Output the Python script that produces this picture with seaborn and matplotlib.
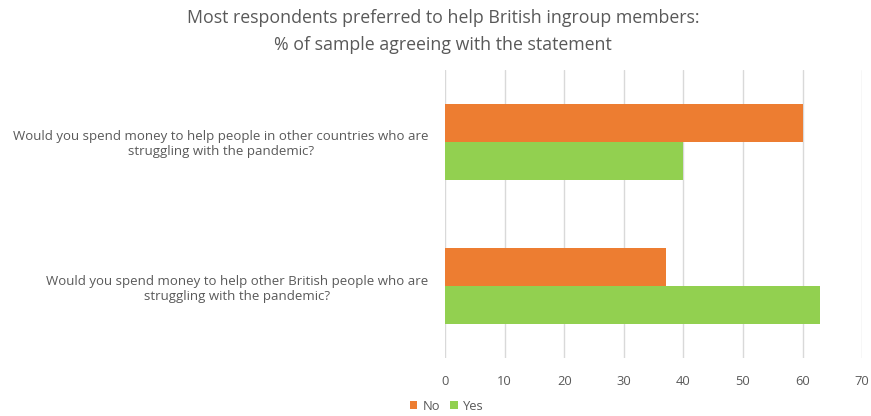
import matplotlib
matplotlib.use("Agg")
import matplotlib.pyplot as plt
import seaborn as sns
import pandas as pd

questions = [
    "Would you spend money to help people in other countries who are\nstruggling with the pandemic?",
    "Would you spend money to help other British people who are\nstruggling with the pandemic?",
]
no_values = [60, 37]
yes_values = [40, 63]
series = ["No", "Yes"]
colors = {"No": "#ED7D31", "Yes": "#92D050"}
ticks = [0, 10, 20, 30, 40, 50, 60, 70]

rows = []
for q, n, y in zip(questions, no_values, yes_values):
    rows.append({"question": q, "answer": "No", "pct": n})
    rows.append({"question": q, "answer": "Yes", "pct": y})
df = pd.DataFrame(rows)

sns.set_theme(style="white")
plt.rcParams["font.family"] = ["Open Sans", "DejaVu Sans"]
txt = "#595959"

fig = plt.figure(figsize=(8.71, 4.16), dpi=100)
ax = fig.add_axes([0.511, 0.139, 0.4788, 0.693])

sns.barplot(data=df, y="question", x="pct", hue="answer", order=questions,
            hue_order=series, palette=colors, orient="h", width=0.53,
            saturation=1, linewidth=0, ax=ax, legend=True)

ax.set_xlim(0, 70)
ax.set_ylim(1.5, -0.5)
ax.set_xticks(ticks)
ax.set_xticklabels([str(t) for t in ticks])
ax.xaxis.grid(True, color="#d9d9d9", linewidth=1)
ax.set_axisbelow(True)
for s in ax.spines.values():
    s.set_visible(False)
ax.set_xlabel("")
ax.set_ylabel("")
ax.tick_params(axis="x", colors=txt, labelsize=9.3, length=0, pad=12)
ax.tick_params(axis="y", colors=txt, labelsize=9.5, length=0, pad=12)
for lab in ax.get_yticklabels():
    lab.set_multialignment("center")

leg = ax.get_legend()
handles = leg.legend_handles
leg.remove()
fig.legend(handles, series, loc="lower center", bbox_to_anchor=(0.513, -0.02),
           ncol=2, frameon=False, fontsize=9.3, labelcolor=txt,
           handlelength=0.6, handleheight=0.6, handletextpad=0.4, columnspacing=0.8)

fig.text(0.509, 0.978, "Most respondents preferred to help British ingroup members:\n% of sample agreeing with the statement",
         ha="center", va="top", fontsize=12.8, color=txt, linespacing=1.6)

fig.savefig("out.png", dpi=100)
